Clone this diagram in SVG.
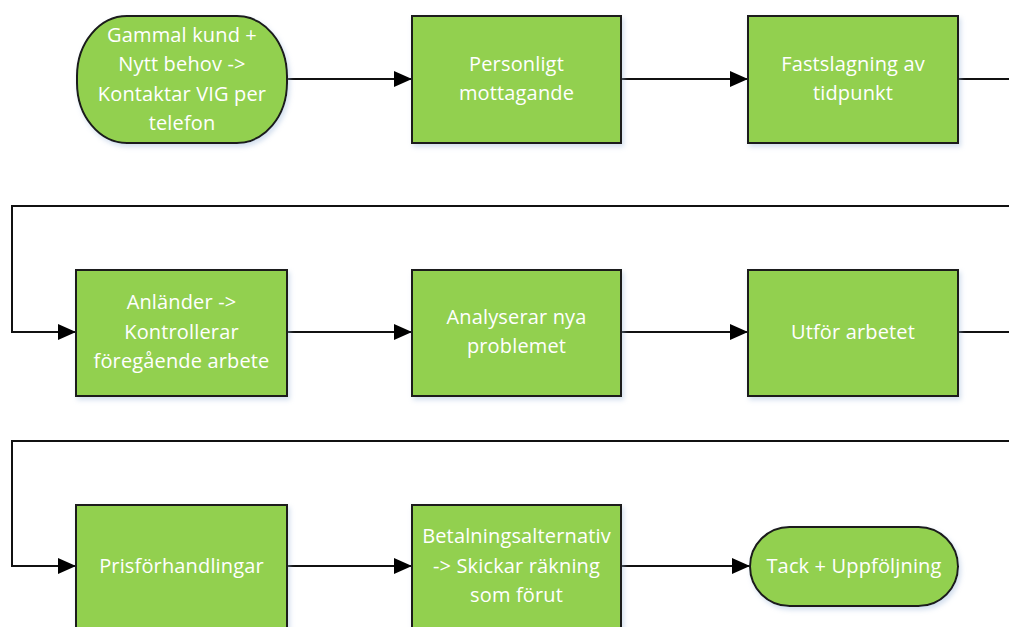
<svg xmlns="http://www.w3.org/2000/svg" width="1009" height="627" viewBox="0 0 1009 627">
<style>
.n{fill:#92D050;stroke:#1a1a1a;stroke-width:2;filter:url(#sh)}
.t{fill:#ffffff;font-family:"Open Sans",Lato,sans-serif;font-size:20px;letter-spacing:0.15px;text-anchor:middle}
.c{fill:none;stroke:#111;stroke-width:2}
</style>
<defs>
<filter id="sh" x="-10%" y="-10%" width="130%" height="130%">
<feDropShadow dx="2" dy="3" stdDeviation="2.5" flood-color="#9db8da" flood-opacity="0.45"/>
</filter>
<marker id="a" viewBox="0 0 18 16" refX="18" refY="8" markerWidth="18" markerHeight="16" markerUnits="userSpaceOnUse" orient="auto">
<path d="M0,0 L18,8 L0,16 Z" fill="#000"/>
</marker>
</defs>
<g id="connectors">
<path class="c" d="M287,79 H412" marker-end="url(#a)"/>
<path class="c" d="M621,79 H748" marker-end="url(#a)"/>
<path class="c" d="M958,79 H1012"/>
<path class="c" d="M1012,206 H12 V332 H76" marker-end="url(#a)"/>
<path class="c" d="M287,332 H412" marker-end="url(#a)"/>
<path class="c" d="M621,332 H748" marker-end="url(#a)"/>
<path class="c" d="M958,332 H1012"/>
<path class="c" d="M1012,441 H12 V566 H76" marker-end="url(#a)"/>
<path class="c" d="M287,566 H412" marker-end="url(#a)"/>
<path class="c" d="M621,566 H750" marker-end="url(#a)"/>
</g>
<g id="n1">
<rect class="n" x="77" y="16" width="210" height="127" rx="50" ry="60"/>
<text class="t"><tspan x="182" y="41.5">Gammal kund +</tspan><tspan x="182" y="71">Nytt behov -&gt;</tspan><tspan x="182" y="100.5">Kontaktar VIG per</tspan><tspan x="182" y="130">telefon</tspan></text>
</g>
<g id="n2">
<rect class="n" x="412" y="16" width="209" height="127"/>
<text class="t"><tspan x="516.5" y="70.5">Personligt</tspan><tspan x="516.5" y="100">mottagande</tspan></text>
</g>
<g id="n3">
<rect class="n" x="748" y="16" width="210" height="127"/>
<text class="t"><tspan x="853" y="70.5">Fastslagning av</tspan><tspan x="853" y="100">tidpunkt</tspan></text>
</g>
<g id="n4">
<rect class="n" x="76" y="270" width="211" height="126"/>
<text class="t"><tspan x="181.5" y="309">Anländer -&gt;</tspan><tspan x="181.5" y="338.5">Kontrollerar</tspan><tspan x="181.5" y="368">föregående arbete</tspan></text>
</g>
<g id="n5">
<rect class="n" x="412" y="270" width="209" height="126"/>
<text class="t"><tspan x="516.5" y="323.5">Analyserar nya</tspan><tspan x="516.5" y="353">problemet</tspan></text>
</g>
<g id="n6">
<rect class="n" x="748" y="270" width="210" height="126"/>
<text class="t"><tspan x="853" y="338.5">Utför arbetet</tspan></text>
</g>
<g id="n7">
<rect class="n" x="76" y="505" width="211" height="126"/>
<text class="t"><tspan x="181.5" y="572.5">Prisförhandlingar</tspan></text>
</g>
<g id="n8">
<rect class="n" x="412" y="505" width="209" height="126"/>
<text class="t"><tspan x="516.5" y="543">Betalningsalternativ</tspan><tspan x="516.5" y="572.5">-&gt; Skickar räkning</tspan><tspan x="516.5" y="602">som förut</tspan></text>
</g>
<g id="n9">
<rect class="n" x="750" y="527" width="208" height="79" rx="39.5" ry="39.5"/>
<text class="t"><tspan x="854" y="572.5">Tack + Uppföljning</tspan></text>
</g>
</svg>
